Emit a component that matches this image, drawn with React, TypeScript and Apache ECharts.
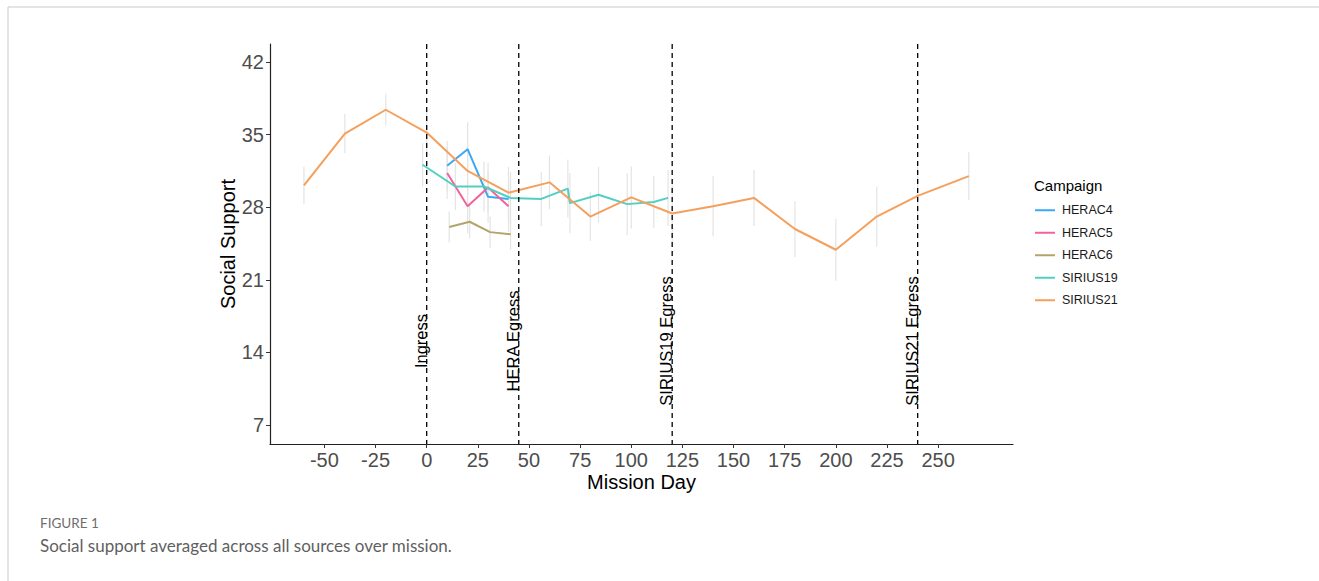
import React, { useEffect, useRef } from "react";
import * as echarts from "echarts";

const xTicks = [-50, -25, 0, 25, 50, 75, 100, 125, 150, 175, 200, 225, 250];
const yTicks = [7, 14, 21, 28, 35, 42];

const campaigns = ["HERAC4", "HERAC5", "HERAC6", "SIRIUS19", "SIRIUS21"];
const colors = ["#3aa9f4", "#f0649b", "#b3a46b", "#52cfc2", "#f4a05c"];

const heraC4Days = [10, 20, 30, 40];
const heraC4Vals = [32.0, 33.6, 29.0, 28.8];
const heraC4Err = [2.4, 2.6, 2.5, 2.5];

const heraC5Days = [10, 20, 30, 40];
const heraC5Vals = [31.3, 28.1, 29.9, 28.1];
const heraC5Err = [2.5, 2.6, 2.4, 2.5];

const heraC6Days = [11, 21, 31, 41];
const heraC6Vals = [26.1, 26.6, 25.6, 25.4];
const heraC6Err = [1.5, 1.6, 1.5, 1.5];

const sirius19Days = [-2, 14, 28, 41, 56, 69, 70, 84, 98, 111, 118];
const sirius19Vals = [32.1, 30.0, 30.0, 28.9, 28.8, 29.8, 28.4, 29.2, 28.3, 28.5, 28.9];
const sirius19Err = [2.1, 2.3, 2.4, 2.5, 2.6, 2.8, 2.9, 2.7, 3.0, 2.5, 2.7];

const sirius21Days = [-60, -40, -20, 0, 20, 40, 60, 80, 100, 120, 140, 160, 180, 200, 220, 240, 265];
const sirius21Vals = [30.1, 35.1, 37.4, 35.2, 31.5, 29.4, 30.4, 27.1, 28.95, 27.4, 28.1, 28.9, 25.9, 23.9, 27.1, 29.1, 31.0];
const sirius21Err = [1.8, 1.9, 1.55, 2.0, 2.3, 2.5, 2.6, 2.35, 3.0, 2.8, 2.9, 2.7, 2.7, 3.0, 2.9, 2.8, 2.3];

const eventDays = [0, 45, 120, 240];
const eventLabels = ["Ingress", "HERA Egress", "SIRIUS19 Egress", "SIRIUS21 Egress"];
const eventLabelY = 15.1;

const X_MIN = -76.6;
const X_MAX = 286.6;
const Y_MIN = 5.17;
const Y_MAX = 43.74;

const FONT = "'Liberation Sans', Arial, sans-serif";
const CAP_FONT = "Lato, 'Open Sans', sans-serif";

export default function App() {
  const ref = useRef<HTMLDivElement>(null);

  useEffect(() => {
    if (!ref.current) return;
    const chart = echarts.init(ref.current, undefined, { renderer: "svg" });

    const groups = [
      { days: heraC4Days, vals: heraC4Vals, err: heraC4Err },
      { days: heraC5Days, vals: heraC5Vals, err: heraC5Err },
      { days: heraC6Days, vals: heraC6Vals, err: heraC6Err },
      { days: sirius19Days, vals: sirius19Vals, err: sirius19Err },
      { days: sirius21Days, vals: sirius21Vals, err: sirius21Err },
    ];

    const errData: number[][] = [];
    groups.forEach((g) => {
      g.days.forEach((d, i) => {
        errData.push([d, g.vals[i] - g.err[i], g.vals[i] + g.err[i]]);
      });
    });

    const lineSeries = groups.map((g, k) => ({
      name: campaigns[k],
      type: "line",
      data: g.days.map((d, i) => [d, g.vals[i]]),
      showSymbol: false,
      symbol: "none",
      lineStyle: { color: colors[k], width: 2 },
      itemStyle: { color: colors[k] },
      z: 3,
    }));

    const option: any = {
      animation: false,
      backgroundColor: "#ffffff",
      grid: { left: 270, right: 306, top: 44, bottom: 137, containLabel: false },
      xAxis: {
        type: "value",
        min: X_MIN,
        max: X_MAX,
        name: "Mission Day",
        nameLocation: "middle",
        nameGap: 28,
        nameMoveOverlap: false,
        nameTextStyle: { fontSize: 20, color: "#000", fontFamily: FONT },
        axisLine: { show: true, onZero: false, lineStyle: { color: "#222", width: 1.2 } },
        axisTick: { show: true, length: 4, lineStyle: { color: "#333" }, customValues: xTicks },
        axisLabel: { fontSize: 20, color: "#4d4d4d", fontFamily: FONT, margin: 6, customValues: xTicks },
        splitLine: { show: false },
      },
      yAxis: {
        type: "value",
        min: Y_MIN,
        max: Y_MAX,
        name: "Social Support",
        nameLocation: "middle",
        nameGap: 32,
        nameMoveOverlap: false,
        nameTextStyle: { fontSize: 20, color: "#000", fontFamily: FONT },
        axisLine: { show: true, onZero: false, lineStyle: { color: "#222", width: 1.2 } },
        axisTick: { show: true, length: 4, lineStyle: { color: "#333" }, customValues: yTicks },
        axisLabel: { fontSize: 20, color: "#4d4d4d", fontFamily: FONT, margin: 6, customValues: yTicks },
        splitLine: { show: false },
      },
      title: {
        text: "Campaign",
        left: 1034,
        top: 178,
        padding: 0,
        textStyle: { fontSize: 15, fontWeight: "normal", color: "#000", fontFamily: FONT },
      },
      legend: {
        orient: "vertical",
        left: 1035,
        top: 203,
        padding: 0,
        itemWidth: 20,
        itemHeight: 2,
        itemGap: 8,
        icon: "rect",
        data: campaigns,
        textStyle: { fontSize: 12.5, color: "#1a1a1a", fontFamily: FONT, lineHeight: 14.5, padding: [0, 0, 0, 2] },
      },
      graphic: [
        { type: "line", shape: { x1: 8, y1: 7, x2: 1319, y2: 7 }, style: { stroke: "#c9c9c9", lineWidth: 1 } },
        { type: "line", shape: { x1: 8, y1: 7, x2: 8, y2: 581 }, style: { stroke: "#c9c9c9", lineWidth: 1 } },
        {
          type: "text",
          left: 40,
          top: 516,
          style: { text: "FIGURE 1", fontSize: 13.5, fill: "#6e6e6e", fontFamily: CAP_FONT, fontWeight: "normal" },
        },
        {
          type: "text",
          left: 40,
          top: 537,
          style: { text: "Social support averaged across all sources over mission.", fontSize: 17, fill: "#5f5f5f", fontFamily: CAP_FONT, fontWeight: "normal" },
        },
      ],
      series: [
        {
          type: "custom",
          name: "err",
          data: errData,
          z: 1,
          silent: true,
          renderItem: (params: any, api: any) => {
            const x = api.value(0);
            const p1 = api.coord([x, api.value(1)]);
            const p2 = api.coord([x, api.value(2)]);
            return {
              type: "line",
              shape: { x1: p1[0], y1: p1[1], x2: p2[0], y2: p2[1] },
              style: { stroke: "#e4e4e4", lineWidth: 1.2 },
            };
          },
        },
        ...lineSeries,
        {
          type: "custom",
          name: "events",
          data: eventDays.map((d) => [d, eventLabelY]),
          z: 5,
          silent: true,
          clip: false,
          renderItem: (params: any, api: any) => {
            const x = api.value(0);
            const top = api.coord([x, Y_MAX]);
            const bot = api.coord([x, Y_MIN]);
            const lp = api.coord([x, api.value(1)]);
            return {
              type: "group",
              children: [
                {
                  type: "line",
                  shape: { x1: top[0], y1: top[1], x2: bot[0], y2: bot[1] },
                  style: { stroke: "#000", lineWidth: 1.3, lineDash: [5, 4] },
                },
                {
                  type: "text",
                  x: lp[0] + 2.5,
                  y: lp[1],
                  rotation: Math.PI / 2,
                  style: {
                    text: eventLabels[params.dataIndex],
                    fontSize: 16.5,
                    fill: "#000",
                    fontFamily: FONT,
                    align: "center",
                    verticalAlign: "bottom",
                  },
                },
              ],
            };
          },
        },
      ],
    };

    chart.setOption(option);
    return () => chart.dispose();
  }, []);

  return (
    <div
      ref={ref}
      style={{ position: "fixed", left: 0, top: 0, width: 1319, height: 581, background: "#fff" }}
    />
  );
}
